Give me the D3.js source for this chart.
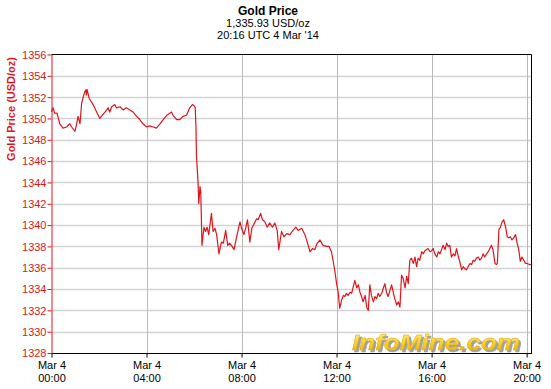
<!DOCTYPE html>
<html><head><meta charset="utf-8">
<script src="https://cdn.jsdelivr.net/npm/d3@7"></script>
<style>
html,body{margin:0;padding:0;background:#fff;}
svg{display:block;}
text{font-family:"Liberation Sans",Arial,sans-serif;}
</style></head>
<body>
<script>
// ---- data (minutes after 00:00 UTC, 4 Mar 2014; price USD/oz) ----
const minutes = [0,4,8,14,21,29,38,46,51,59,63,67,72,76,80,84,87,88,90,95,105,114,122,126,135,143,147,152,160,164,173,181,189,198,206,215,223,231,240,248,257,265,274,282,291,299,303,307,316,324,332,341,349,356,360,363,365,366,370,372,375,377,380,385,389,393,397,404,408,413,417,423,429,434,440,445,450,456,461,467,476,480,486,491,495,501,506,514,518,522,528,533,539,545,551,558,564,570,574,581,587,594,602,610,617,623,632,640,646,653,659,665,671,678,686,695,701,707,711,716,720,724,728,733,737,741,745,749,754,758,762,766,771,775,779,783,787,792,796,800,804,808,813,817,821,825,829,834,838,842,846,850,855,859,863,867,872,876,880,884,888,893,897,901,905,909,914,918,922,926,930,935,939,943,951,956,960,964,968,973,977,981,989,994,998,1002,1006,1010,1015,1019,1023,1027,1031,1036,1040,1044,1048,1052,1057,1061,1065,1069,1073,1078,1082,1086,1090,1094,1099,1103,1107,1111,1115,1120,1124,1126,1130,1134,1138,1142,1147,1151,1155,1159,1163,1167,1172,1176,1180,1184,1188,1193,1197,1201,1207,1212];
const prices = [1350.6,1351.0,1350.5,1350.5,1349.5,1349.1,1349.2,1349.5,1349.2,1348.8,1349.4,1350.2,1349.5,1351.4,1352.0,1352.5,1352.7,1352.2,1352.7,1351.9,1351.3,1350.6,1350.0,1350.2,1350.6,1351.0,1350.6,1351.1,1351.3,1351.0,1351.1,1350.8,1351.0,1350.8,1350.6,1350.2,1349.9,1349.5,1349.2,1349.3,1349.2,1349.1,1349.5,1349.9,1350.3,1350.5,1350.6,1350.3,1349.9,1349.9,1350.2,1350.3,1351.0,1351.3,1351.2,1351.0,1349.1,1346.6,1344.1,1342.0,1343.6,1343.1,1338.1,1339.8,1339.4,1339.8,1339.1,1341.1,1339.4,1339.7,1339.1,1337.3,1338.4,1338.3,1339.5,1338.1,1338.3,1338.0,1337.7,1338.8,1340.3,1339.7,1339.1,1339.8,1340.5,1338.4,1339.7,1340.3,1340.6,1340.5,1341.1,1340.5,1340.3,1339.8,1340.2,1339.8,1340.2,1339.5,1337.7,1339.4,1338.9,1339.2,1339.1,1339.5,1339.8,1339.5,1339.7,1339.1,1338.4,1337.5,1337.8,1337.7,1338.3,1338.6,1338.1,1338.0,1338.0,1337.5,1336.7,1335.6,1334.5,1333.7,1332.2,1333.0,1333.4,1333.3,1333.6,1333.4,1333.7,1333.6,1334.2,1334.8,1334.1,1334.4,1333.7,1333.3,1332.8,1333.4,1332.3,1332.0,1334.4,1333.4,1332.8,1333.3,1333.1,1333.6,1333.3,1333.6,1334.1,1334.5,1333.7,1333.3,1333.9,1334.4,1333.7,1333.1,1332.5,1332.8,1332.3,1335.3,1335.0,1334.1,1335.2,1334.5,1336.7,1336.9,1336.4,1337.0,1336.1,1336.9,1336.7,1337.5,1337.3,1337.6,1337.8,1337.5,1337.6,1337.8,1337.3,1337.0,1337.5,1337.3,1338.1,1337.7,1338.3,1338.0,1338.1,1337.0,1337.3,1337.1,1337.8,1337.1,1336.6,1335.8,1336.1,1335.9,1335.8,1336.1,1336.4,1336.3,1336.7,1336.6,1336.9,1337.0,1336.7,1336.9,1337.3,1337.0,1337.3,1337.5,1337.8,1338.1,1337.7,1336.4,1336.3,1336.4,1339.6,1339.8,1340.3,1340.5,1339.8,1338.9,1338.8,1338.9,1338.6,1338.8,1339.1,1338.3,1337.7,1336.6,1337.0,1336.7,1336.4,1336.4,1336.3,1336.3];
const yTicks = [1328,1330,1332,1334,1336,1338,1340,1342,1344,1346,1348,1350,1352,1354,1356];
const xTicks = [0,240,480,720,960,1200];
const xTickDates = ["Mar 4","Mar 4","Mar 4","Mar 4","Mar 4","Mar 4"];
const xTickTimes = ["00:00","04:00","08:00","12:00","16:00","20:00"];
const titleLines = ["Gold Price","1,335.93 USD/oz","20:16 UTC 4 Mar '14"];
const yTitle = "Gold Price (USD/oz)";
const watermark = "InfoMine.com";

const W = 551, H = 389;
const L = 51.5, R = 531, T = 54.5, B = 353;
const RED = "#e0141b";

const svg = d3.select("body").append("svg").attr("width", W).attr("height", H);

const x = d3.scaleLinear().domain([0, 1211]).range([L, R]);
const y = d3.scaleLinear().domain([1328, 1356]).range([B, T]);

// gridlines
svg.append("g").selectAll("line").data(yTicks.slice(1, -1)).join("line")
  .attr("x1", L).attr("x2", R).attr("y1", d => Math.round(y(d)) + 0.5).attr("y2", d => Math.round(y(d)) + 0.5)
  .attr("stroke", "#d2d2d2").attr("stroke-width", 1.6);
svg.append("g").selectAll("line").data(xTicks.slice(1)).join("line")
  .attr("y1", T).attr("y2", B).attr("x1", d => Math.round(x(d)) + 0.5).attr("x2", d => Math.round(x(d)) + 0.5)
  .attr("stroke", "#b8b8b8").attr("stroke-width", 1);

// watermark (shadow via filter)
const defs = svg.append("defs");
const grad = defs.append("linearGradient").attr("id", "wm").attr("x1", 0).attr("y1", 0).attr("x2", 0).attr("y2", 1);
grad.append("stop").attr("offset", "0%").attr("stop-color", "#fff7a0");
grad.append("stop").attr("offset", "45%").attr("stop-color", "#f8d830");
grad.append("stop").attr("offset", "100%").attr("stop-color", "#e8a800");
const flt = defs.append("filter").attr("id", "wmShadow").attr("x", "-10%").attr("y", "-30%").attr("width", "130%").attr("height", "170%");
flt.append("feDropShadow").attr("dx", 2).attr("dy", 2).attr("stdDeviation", 0.6)
  .attr("flood-color", "#888").attr("flood-opacity", 0.8);
svg.append("text").attr("x", 352).attr("y", 350).text(watermark)
  .attr("font-family", "DejaVu Sans").attr("font-weight", "bold").attr("font-style", "italic")
  .attr("font-size", 22).attr("textLength", 168).attr("lengthAdjust", "spacingAndGlyphs")
  .attr("fill", "url(#wm)").attr("stroke", "#d9a000").attr("stroke-width", 0.4)
  .attr("filter", "url(#wmShadow)");

// line
const data = minutes.map((m, i) => [m, prices[i]]);
svg.append("path").datum(data)
  .attr("d", d3.line().x(d => x(d[0])).y(d => y(d[1])))
  .attr("fill", "none").attr("stroke", RED).attr("stroke-width", 1.2).attr("stroke-linejoin", "round");

// frame top/right
svg.append("line").attr("x1", L).attr("x2", R + 0.5).attr("y1", T).attr("y2", T).attr("stroke", "#000").attr("stroke-width", 1);
svg.append("line").attr("x1", R + 0.5).attr("x2", R + 0.5).attr("y1", T).attr("y2", B).attr("stroke", "#000").attr("stroke-width", 1);

// x axis
const xAxis = svg.append("g").attr("transform", `translate(0,${B + 0.5})`)
  .call(d3.axisBottom(x).tickValues(xTicks).tickSize(4).tickSizeOuter(0).tickFormat(""));
xAxis.select(".domain").attr("stroke", "#000").attr("d", `M${L},0H${R + 1}`);
xAxis.selectAll(".tick line").attr("stroke", "#000");
xAxis.selectAll(".tick").each(function(d, i) {
  const g = d3.select(this);
  g.select("text").remove();
  const t = g.append("text").attr("fill", "#000").attr("font-size", 11).attr("text-anchor", "middle");
  t.append("tspan").attr("x", 0).attr("y", 15).text(xTickDates[i]);
  t.append("tspan").attr("x", 0).attr("y", 28.5).text(xTickTimes[i]);
});

// y axis
const yAxis = svg.append("g").attr("transform", `translate(${L},0)`)
  .call(d3.axisLeft(y).tickValues(yTicks).tickSize(4).tickSizeOuter(0).tickFormat(d3.format("d")));
yAxis.select(".domain").attr("stroke", RED);
yAxis.selectAll(".tick line").attr("stroke", RED);
yAxis.selectAll(".tick text").attr("fill", RED).attr("font-size", 11)
  .attr("font-family", "Liberation Sans, Arial, sans-serif").attr("x", -5).attr("dy", "0.35em");

// y title
svg.append("text").attr("transform", "translate(15,57) rotate(-90)")
  .attr("text-anchor", "end").attr("fill", RED).attr("font-weight", "bold").attr("font-size", 11)
  .text(yTitle);

// titles
svg.append("text").attr("x", 268).attr("y", 15).attr("text-anchor", "middle")
  .attr("font-weight", "bold").attr("font-size", 12).attr("fill", "#000").text(titleLines[0]);
svg.append("text").attr("x", 268).attr("y", 27).attr("text-anchor", "middle")
  .attr("font-size", 11).attr("fill", "#000").text(titleLines[1]);
svg.append("text").attr("x", 268).attr("y", 39).attr("text-anchor", "middle")
  .attr("font-size", 11).attr("fill", "#000").text(titleLines[2]);
</script>
</body></html>
